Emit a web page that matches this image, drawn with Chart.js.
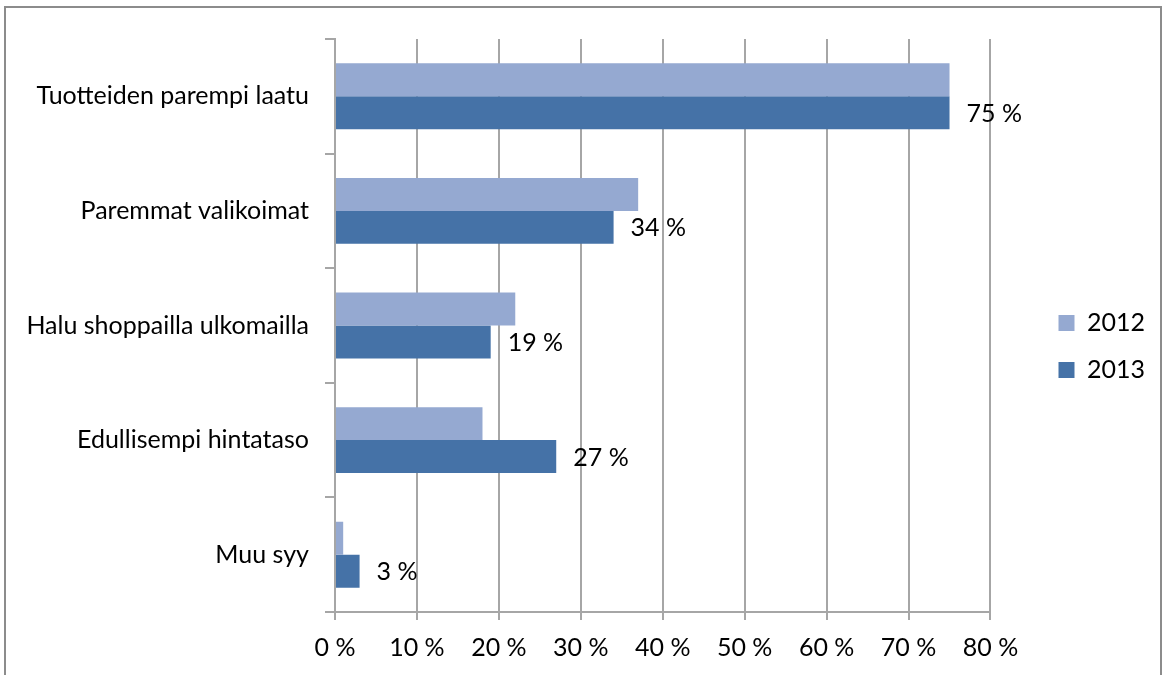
<!DOCTYPE html>
<html>
<head>
<meta charset="utf-8">
<script src="https://cdn.jsdelivr.net/npm/chart.js@4"></script>
<style>
  body { margin: 0; background: #fff; }
  #box { position: absolute; left: 4px; top: 6px; width: 1158px; height: 690px; border: 2px solid #8c8c8c; box-sizing: border-box; }
</style>
</head>
<body>
<div id="box"><canvas id="c"></canvas></div>
<script>
// data
const categories = ['Tuotteiden parempi laatu', 'Paremmat valikoimat', 'Halu shoppailla ulkomailla', 'Edullisempi hintataso', 'Muu syy']
const values2012 = [75, 37, 22, 18, 1]
const values2013 = [75, 34, 19, 27, 3]
const xTicks = [0, 10, 20, 30, 40, 50, 60, 70, 80]

const FONT = 'Lato'
const SIZE = 25
const gridColor = '#a6a6a6'
const legendGap = 46

// value labels after the 2013 bars
const barLabels = {
  id: 'barLabels',
  afterDatasetsDraw(chart) {
    const ctx = chart.ctx
    const meta = chart.getDatasetMeta(1)
    ctx.save()
    ctx.font = SIZE + 'px ' + FONT
    ctx.fillStyle = '#000'
    ctx.textBaseline = 'middle'
    meta.data.forEach((bar, i) => {
      ctx.fillText(values2013[i] + ' %', bar.x + 17, bar.y + 1)
    })
    ctx.restore()
  }
}

// push the legend further away from the plot
const legendShift = {
  id: 'legendShift',
  beforeLayout(chart) {
    const lg = chart.legend
    if (lg && !lg._shifted) {
      const fit = lg.fit.bind(lg)
      lg.fit = function () { fit(); this.width += legendGap }
      lg._shifted = true
    }
  },
  afterLayout(chart) {
    const lg = chart.legend
    if (lg) {
      lg.left += legendGap
      lg.top -= 5
      lg.bottom -= 5
    }
  }
}

new Chart(document.getElementById('c').getContext('2d'), {
  type: 'bar',
  data: {
    labels: categories,
    datasets: [
      { label: '2012', data: values2012, backgroundColor: '#95a9d1' },
      { label: '2013', data: values2013, backgroundColor: '#4572a7' }
    ]
  },
  options: {
    indexAxis: 'y',
    responsive: true,
    maintainAspectRatio: false,
    animation: false,
    datasets: { bar: { categoryPercentage: 0.575, barPercentage: 1 } },
    layout: { padding: { top: 19, right: 5, bottom: 18, left: 0 } },
    scales: {
      x: {
        min: 0, max: 80,
        afterBuildTicks(scale) { scale.ticks = xTicks.map(v => ({ value: v })) },
        ticks: { callback: v => v + ' %', color: '#000', font: { family: FONT, size: SIZE }, padding: 13, maxRotation: 0 },
        grid: { color: gridColor, lineWidth: 2, tickLength: 8 },
        border: { color: gridColor, width: 2 }
      },
      y: {
        afterFit(scale) { scale.width = 329 },
        ticks: { color: '#000', font: { family: FONT, size: SIZE }, padding: 16 },
        grid: { drawOnChartArea: false, color: gridColor, lineWidth: 2, tickLength: 10 },
        border: { color: gridColor, width: 2 }
      }
    },
    plugins: {
      legend: {
        position: 'right',
        labels: { boxWidth: 16, boxHeight: 16, padding: 22, color: '#000', font: { family: FONT, size: SIZE } }
      },
      tooltip: { enabled: false }
    }
  },
  plugins: [barLabels, legendShift]
})
</script>
</body>
</html>
